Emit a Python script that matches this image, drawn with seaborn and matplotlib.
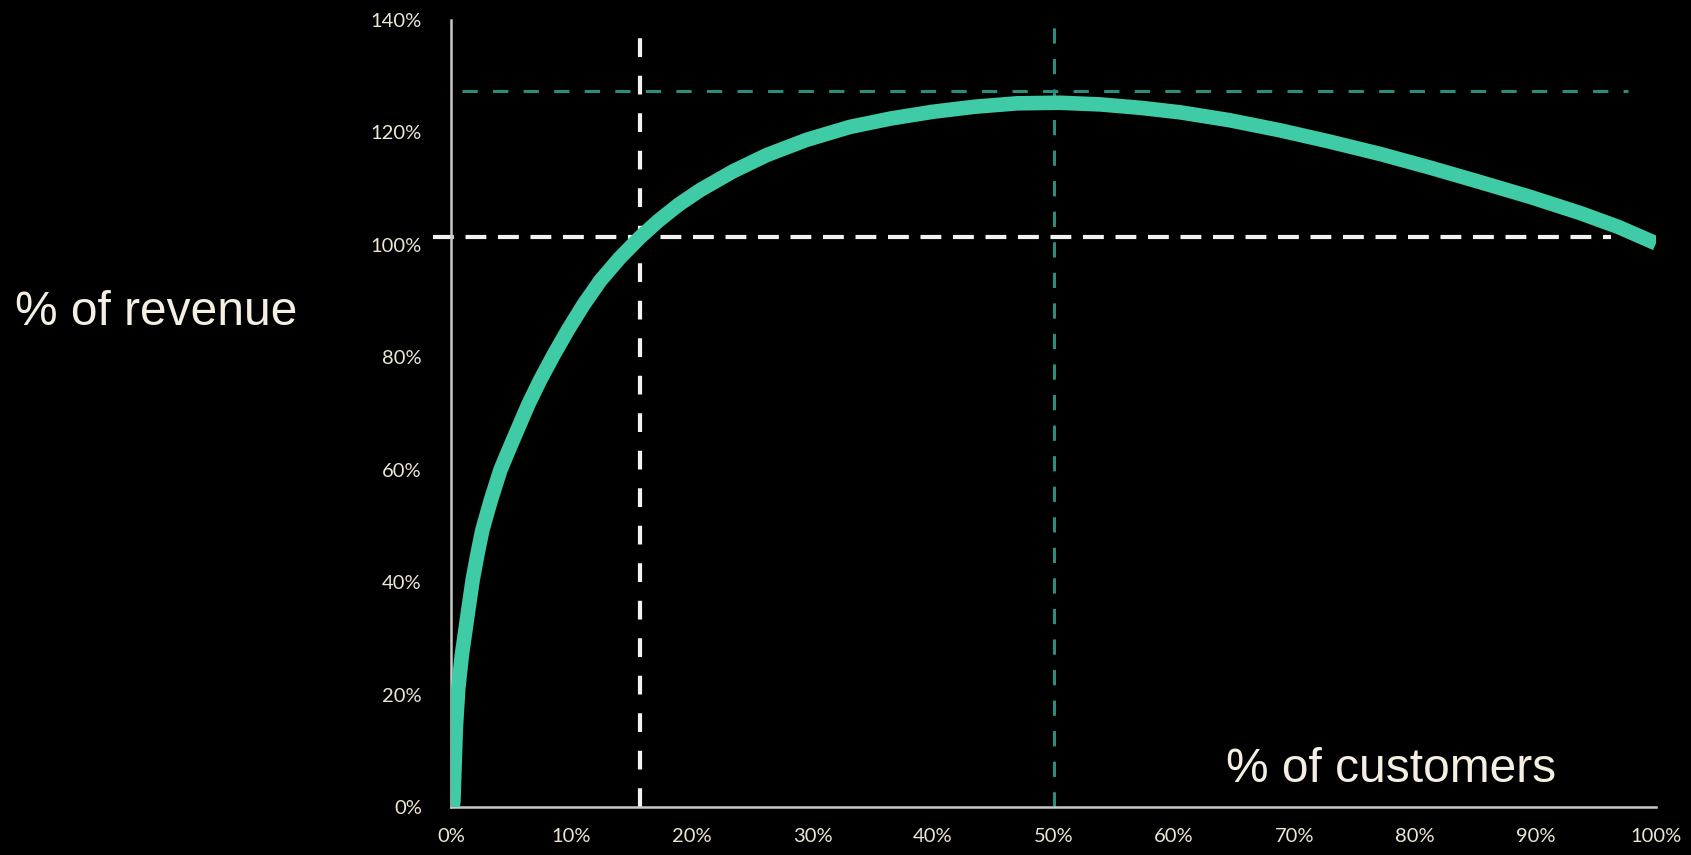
import matplotlib
matplotlib.use("Agg")
import matplotlib.pyplot as plt
import seaborn as sns

# whale curve (% of customers, % of revenue)
customers = [0, 0.2, 0.4, 0.6, 0.9, 1.2, 1.5, 1.8, 2.2, 2.6, 3.3, 4.1, 4.8, 5.5,
             6.4, 7.4, 8.5, 9.7, 11, 12.4, 14, 15.7, 17.2, 18.9, 20.7, 23.4, 26.2, 29.5,
             33.1, 36.5, 40, 43.5, 47, 50.5, 53.9, 57.2, 60.5, 64.6, 68.8, 72.9,
             77.1, 81.2, 85.4, 89.5, 93.7, 96.9, 100]
revenue = [-2, 1, 14, 21, 27, 31.5, 36, 40.4, 45, 49.2, 54.5, 59.9, 63.5, 67,
           71.5, 75.9, 80.3, 84.8, 89.3, 93.6, 97.6, 101.3, 104.2, 107.1, 109.7, 113, 115.9, 118.6,
           120.9, 122.4, 123.6, 124.5, 125.1, 125.2, 124.9, 124.3, 123.5, 122.1, 120.3, 118.3,
           116.1, 113.7, 111.1, 108.5, 105.6, 103.1, 100.2]

# reference lines
breakeven_x, breakeven_y = 15.7, 101.3
peak_x, peak_y = 50, 127.3

xticks = list(range(0, 101, 10))
yticks = list(range(0, 141, 20))
xlabels = [f"{t}%" for t in xticks]
ylabels = [f"{t}%" for t in yticks]

sns.set_style("dark")
plt.rcParams['font.family'] = ['Lato', 'DejaVu Sans']

fig = plt.figure(figsize=(16.91, 8.55), dpi=100, facecolor='black')
ax = fig.add_axes([451 / 1691, 48 / 855, 1205 / 1691, 787.5 / 855])
ax.set_facecolor('black')

teal = '#3ecba6'
dark_teal = '#2a8e7e'
white = '#f2f2f2'

ax.vlines(breakeven_x, 0, 139, colors=white, linewidth=3, linestyles=(0, (4.5, 4.5)), zorder=2)
ax.hlines(breakeven_y, -1.5, 96.3, colors=white, linewidth=3, linestyles=(0, (5, 2.8)), zorder=2,
          clip_on=False)
ax.vlines(peak_x, 0, 140, colors=dark_teal, linewidth=2.2, linestyles=(0, (5, 5)), zorder=2)
ax.hlines(peak_y, 0.9, 97.7, colors=dark_teal, linewidth=2.2, linestyles=(0, (5, 5)), zorder=2)

sns.lineplot(x=customers, y=revenue, ax=ax, color=teal, linewidth=10.5,
             solid_capstyle='butt', solid_joinstyle='round', zorder=3,
             estimator=None, sort=False)

ax.set_xlim(0, 100)
ax.set_ylim(0, 140)
ax.set_xticks(xticks)
ax.set_xticklabels(xlabels)
ax.set_yticks(yticks)
ax.set_yticklabels(ylabels)
ax.grid(False)

for s in ['top', 'right']:
    ax.spines[s].set_visible(False)
for s in ['left', 'bottom']:
    ax.spines[s].set_visible(True)
    ax.spines[s].set_color('#c8c8c8')
    ax.spines[s].set_linewidth(1.8)

label_color = '#eee6d4'
ax.tick_params(axis='both', direction='out', length=7, width=1.5, color='#c8c8c8',
               labelcolor=label_color, labelsize=14.5)
ax.tick_params(axis='y', pad=14)
ax.tick_params(axis='x', pad=8)
ax.set_xlabel('')
ax.set_ylabel('')

fig.text(15 / 1691, 1 - 325 / 855, '% of revenue', family='Liberation Sans',
         fontsize=34.5, color='#f4efe2', ha='left', va='baseline')
fig.text(1556 / 1691, 1 - 782 / 855, '% of customers', family='Liberation Sans',
         fontsize=34.5, color='#f4efe2', ha='right', va='baseline')

fig.savefig('out.png', dpi=100, facecolor='black')
